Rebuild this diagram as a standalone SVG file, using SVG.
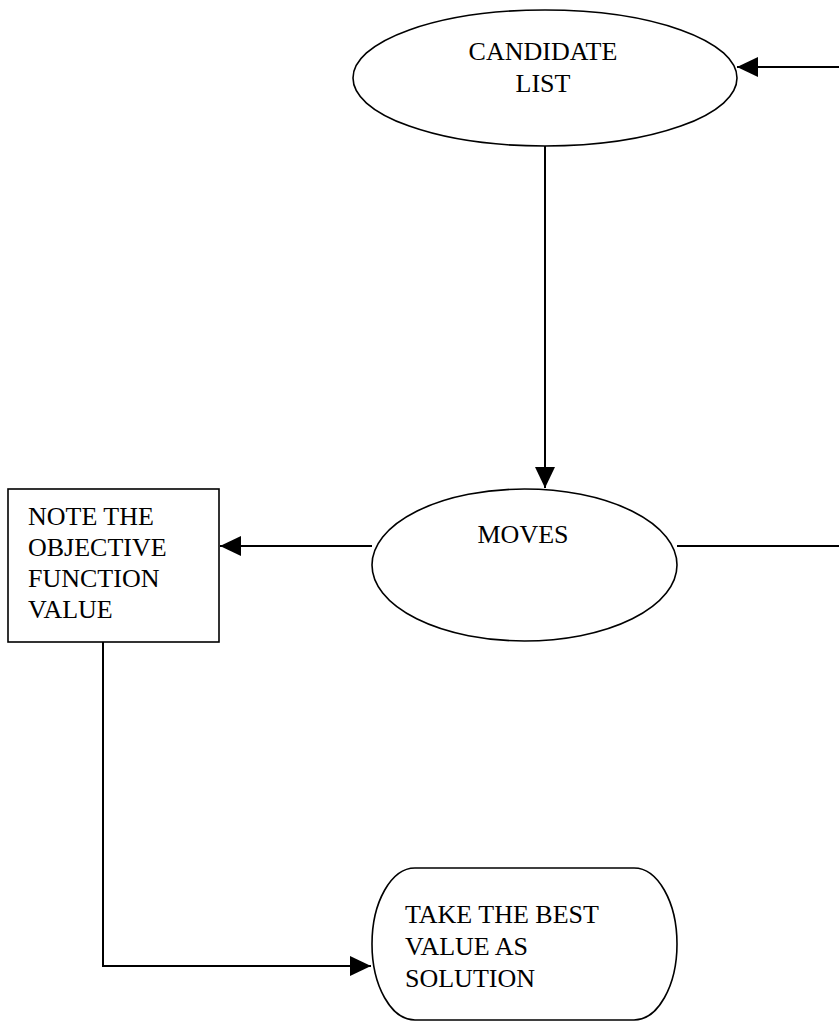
<svg xmlns="http://www.w3.org/2000/svg" width="839" height="1022" viewBox="0 0 839 1022">
<style>
.shape{fill:#fff;stroke:#000;stroke-width:1.6}
.conn{fill:none;stroke:#000;stroke-width:2}
text{font-family:"Liberation Serif","Times New Roman",serif;font-size:26px;fill:#000}
</style>
<defs>
<marker id="arr" markerUnits="userSpaceOnUse" markerWidth="21" markerHeight="20" refX="21" refY="10" orient="auto"><path d="M0,0 L21,10 L0,20 Z" fill="#000"/></marker>
</defs>
<rect width="839" height="1022" fill="#fff"/>
<g id="connectors">
<path class="conn" d="M839,67 H737" marker-end="url(#arr)"/>
<path class="conn" d="M545,146 V488" marker-end="url(#arr)"/>
<path class="conn" d="M372,546 H220" marker-end="url(#arr)"/>
<path class="conn" d="M677,546 H839"/>
<path class="conn" d="M103,642 V966 H371" marker-end="url(#arr)"/>
</g>
<g id="candidate-list">
<ellipse class="shape" cx="545" cy="78" rx="192" ry="68"/>
<text x="543" y="60" text-anchor="middle">CANDIDATE</text>
<text x="543" y="92" text-anchor="middle">LIST</text>
</g>
<g id="moves">
<ellipse class="shape" cx="524.5" cy="565" rx="152.5" ry="76"/>
<text x="523" y="543" text-anchor="middle">MOVES</text>
</g>
<g id="note-objective">
<rect class="shape" x="8" y="489" width="211" height="153"/>
<text x="28" y="525">NOTE THE</text>
<text x="28" y="556">OBJECTIVE</text>
<text x="28" y="587">FUNCTION</text>
<text x="28" y="618">VALUE</text>
</g>
<g id="take-best">
<rect class="shape" x="372" y="868" width="305" height="152" rx="43" ry="76"/>
<text x="405" y="923">TAKE THE BEST</text>
<text x="405" y="955">VALUE AS</text>
<text x="405" y="987">SOLUTION</text>
</g>
</svg>
